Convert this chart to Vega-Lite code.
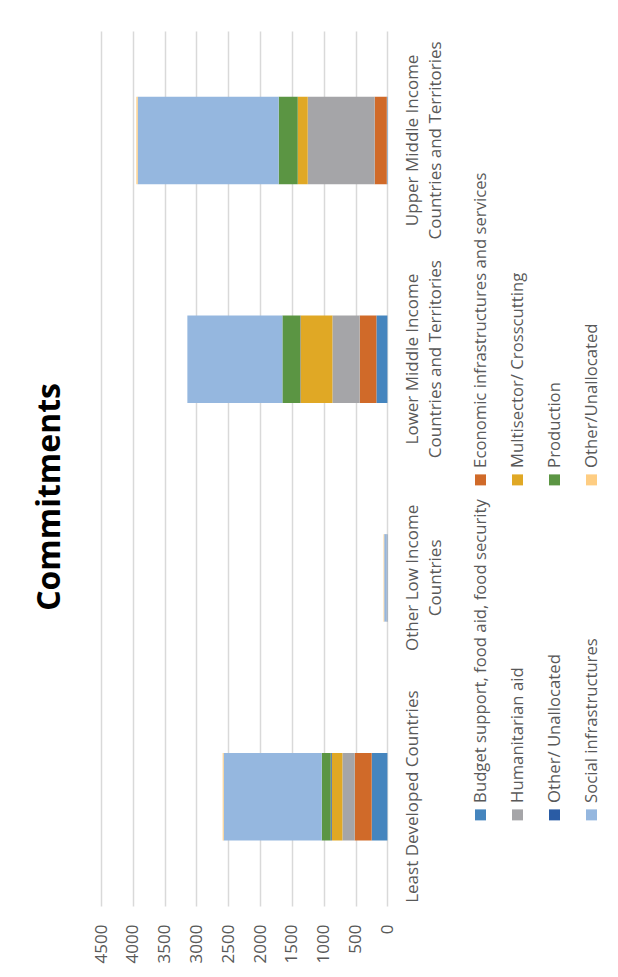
{
  "$schema": "https://vega.github.io/schema/vega-lite/v6.json",
  "padding": {"left": 33, "top": 31, "right": 0, "bottom": 5},
  "background": "white",
  "bounds": "flush",
  "spacing": 74,
  "title": {"text": "Commitments", "orient": "left", "anchor": "middle", "frame": "bounds", "fontSize": 32, "fontWeight": "bold", "font": "Open Sans", "color": "#000000", "offset": 25},
  "config": {"view": {"stroke": null}, "font": "Open Sans"},
  "datasets": {
    "commitments": [
      {"category": "Least Developed Countries", "series": "Budget support, food aid, food security", "value": 247},
      {"category": "Least Developed Countries", "series": "Economic infrastructures and services", "value": 267},
      {"category": "Least Developed Countries", "series": "Humanitarian aid", "value": 193},
      {"category": "Least Developed Countries", "series": "Multisector/ Crosscutting", "value": 168},
      {"category": "Least Developed Countries", "series": "Other/ Unallocated", "value": 16},
      {"category": "Least Developed Countries", "series": "Production", "value": 141},
      {"category": "Least Developed Countries", "series": "Social infrastructures", "value": 1540},
      {"category": "Least Developed Countries", "series": "Other/Unallocated", "value": 16},
      {"category": "Other Low Income Countries", "series": "Budget support, food aid, food security", "value": 5},
      {"category": "Other Low Income Countries", "series": "Economic infrastructures and services", "value": 5},
      {"category": "Other Low Income Countries", "series": "Social infrastructures", "value": 40},
      {"category": "Other Low Income Countries", "series": "Other/Unallocated", "value": 10},
      {"category": "Lower Middle Income Countries and Territories", "series": "Budget support, food aid, food security", "value": 173},
      {"category": "Lower Middle Income Countries and Territories", "series": "Economic infrastructures and services", "value": 262},
      {"category": "Lower Middle Income Countries and Territories", "series": "Humanitarian aid", "value": 429},
      {"category": "Lower Middle Income Countries and Territories", "series": "Multisector/ Crosscutting", "value": 503},
      {"category": "Lower Middle Income Countries and Territories", "series": "Other/ Unallocated", "value": 5},
      {"category": "Lower Middle Income Countries and Territories", "series": "Production", "value": 278},
      {"category": "Lower Middle Income Countries and Territories", "series": "Social infrastructures", "value": 1493},
      {"category": "Upper Middle Income Countries and Territories", "series": "Budget support, food aid, food security", "value": 10},
      {"category": "Upper Middle Income Countries and Territories", "series": "Economic infrastructures and services", "value": 190},
      {"category": "Upper Middle Income Countries and Territories", "series": "Humanitarian aid", "value": 1052},
      {"category": "Upper Middle Income Countries and Territories", "series": "Multisector/ Crosscutting", "value": 157},
      {"category": "Upper Middle Income Countries and Territories", "series": "Production", "value": 299},
      {"category": "Upper Middle Income Countries and Territories", "series": "Social infrastructures", "value": 2215},
      {"category": "Upper Middle Income Countries and Territories", "series": "Other/Unallocated", "value": 21}
    ],
    "legend": [
      {"series": "Budget support, food aid, food security"},
      {"series": "Economic infrastructures and services"},
      {"series": "Humanitarian aid"},
      {"series": "Multisector/ Crosscutting"},
      {"series": "Other/ Unallocated"},
      {"series": "Production"},
      {"series": "Social infrastructures"},
      {"series": "Other/Unallocated"}
    ]
  },
  "hconcat": [
    {
      "width": 286.4,
      "height": 875,
      "data": {"name": "commitments"},
      "transform": [
        {"calculate": "indexof(['Budget support, food aid, food security','Economic infrastructures and services','Humanitarian aid','Multisector/ Crosscutting','Other/ Unallocated','Production','Social infrastructures','Other/Unallocated'], datum.series)", "as": "stackOrder"}
      ],
      "mark": {"type": "bar"},
      "encoding": {
        "y": {
          "field": "category", "type": "nominal",
          "sort": ["Upper Middle Income Countries and Territories", "Lower Middle Income Countries and Territories", "Other Low Income Countries", "Least Developed Countries"],
          "scale": {"paddingInner": 0.6, "paddingOuter": 0.3},
          "axis": {
            "orient": "right", "title": null, "labelAngle": 270, "labelAlign": "center", "labelBaseline": "top",
            "labelPadding": 17, "ticks": false, "domain": false, "labelFontSize": 17, "labelColor": "#595959",
            "labelLineHeight": 23, "labelLimit": 400, "labelOverlap": false,
            "labelExpr": "indexof(datum.label, 'Income ') >= 0 ? [substring(datum.label, 0, indexof(datum.label, 'Income ') + 6), substring(datum.label, indexof(datum.label, 'Income ') + 7)] : datum.label"
          }
        },
        "x": {
          "field": "value", "type": "quantitative", "stack": "zero",
          "scale": {"domain": [0, 4500], "reverse": true, "nice": false},
          "axis": {
            "orient": "bottom", "title": null, "values": [0, 500, 1000, 1500, 2000, 2500, 3000, 3500, 4000, 4500],
            "format": "d", "labelAngle": 270, "labelAlign": "right", "labelBaseline": "middle", "labelPadding": 18,
            "ticks": false, "domain": false, "grid": true, "gridColor": "#d9d9d9", "gridWidth": 1.5,
            "labelFontSize": 17, "labelColor": "#595959", "labelOverlap": false
          }
        },
        "color": {
          "field": "series", "type": "nominal", "legend": null,
          "scale": {
            "domain": ["Budget support, food aid, food security", "Economic infrastructures and services", "Humanitarian aid", "Multisector/ Crosscutting", "Other/ Unallocated", "Production", "Social infrastructures", "Other/Unallocated"],
            "range": ["#4585be", "#d06a29", "#a5a5a8", "#e0a825", "#2a5ca5", "#5b9543", "#95b7df", "#fecd82"]
          }
        },
        "order": {"field": "stackOrder", "type": "quantitative", "sort": "ascending"}
      }
    },
    {
      "width": 148,
      "height": 875,
      "data": {"name": "legend"},
      "transform": [
        {"calculate": "indexof(['Budget support, food aid, food security','Economic infrastructures and services','Humanitarian aid','Multisector/ Crosscutting','Other/ Unallocated','Production','Social infrastructures','Other/Unallocated'], datum.series)", "as": "idx"},
        {"calculate": "floor(datum.idx / 2)", "as": "col"},
        {"calculate": "datum.idx % 2", "as": "row"}
      ],
      "encoding": {
        "x": {"field": "col", "type": "quantitative", "scale": {"domain": [-0.5, 3.5], "nice": false, "zero": false}, "axis": null},
        "y": {"field": "row", "type": "quantitative", "scale": {"domain": [-0.272, 2.34], "nice": false, "zero": false}, "axis": null}
      },
      "layer": [
        {
          "mark": {"type": "point", "shape": "square", "filled": true, "size": 121, "opacity": 1},
          "encoding": {"color": {"field": "series", "type": "nominal", "legend": null}}
        },
        {
          "mark": {"type": "text", "angle": 270, "align": "left", "baseline": "middle", "dx": 12, "fontSize": 16.7, "color": "#595959"},
          "encoding": {"text": {"field": "series"}}
        }
      ]
    }
  ]
}
